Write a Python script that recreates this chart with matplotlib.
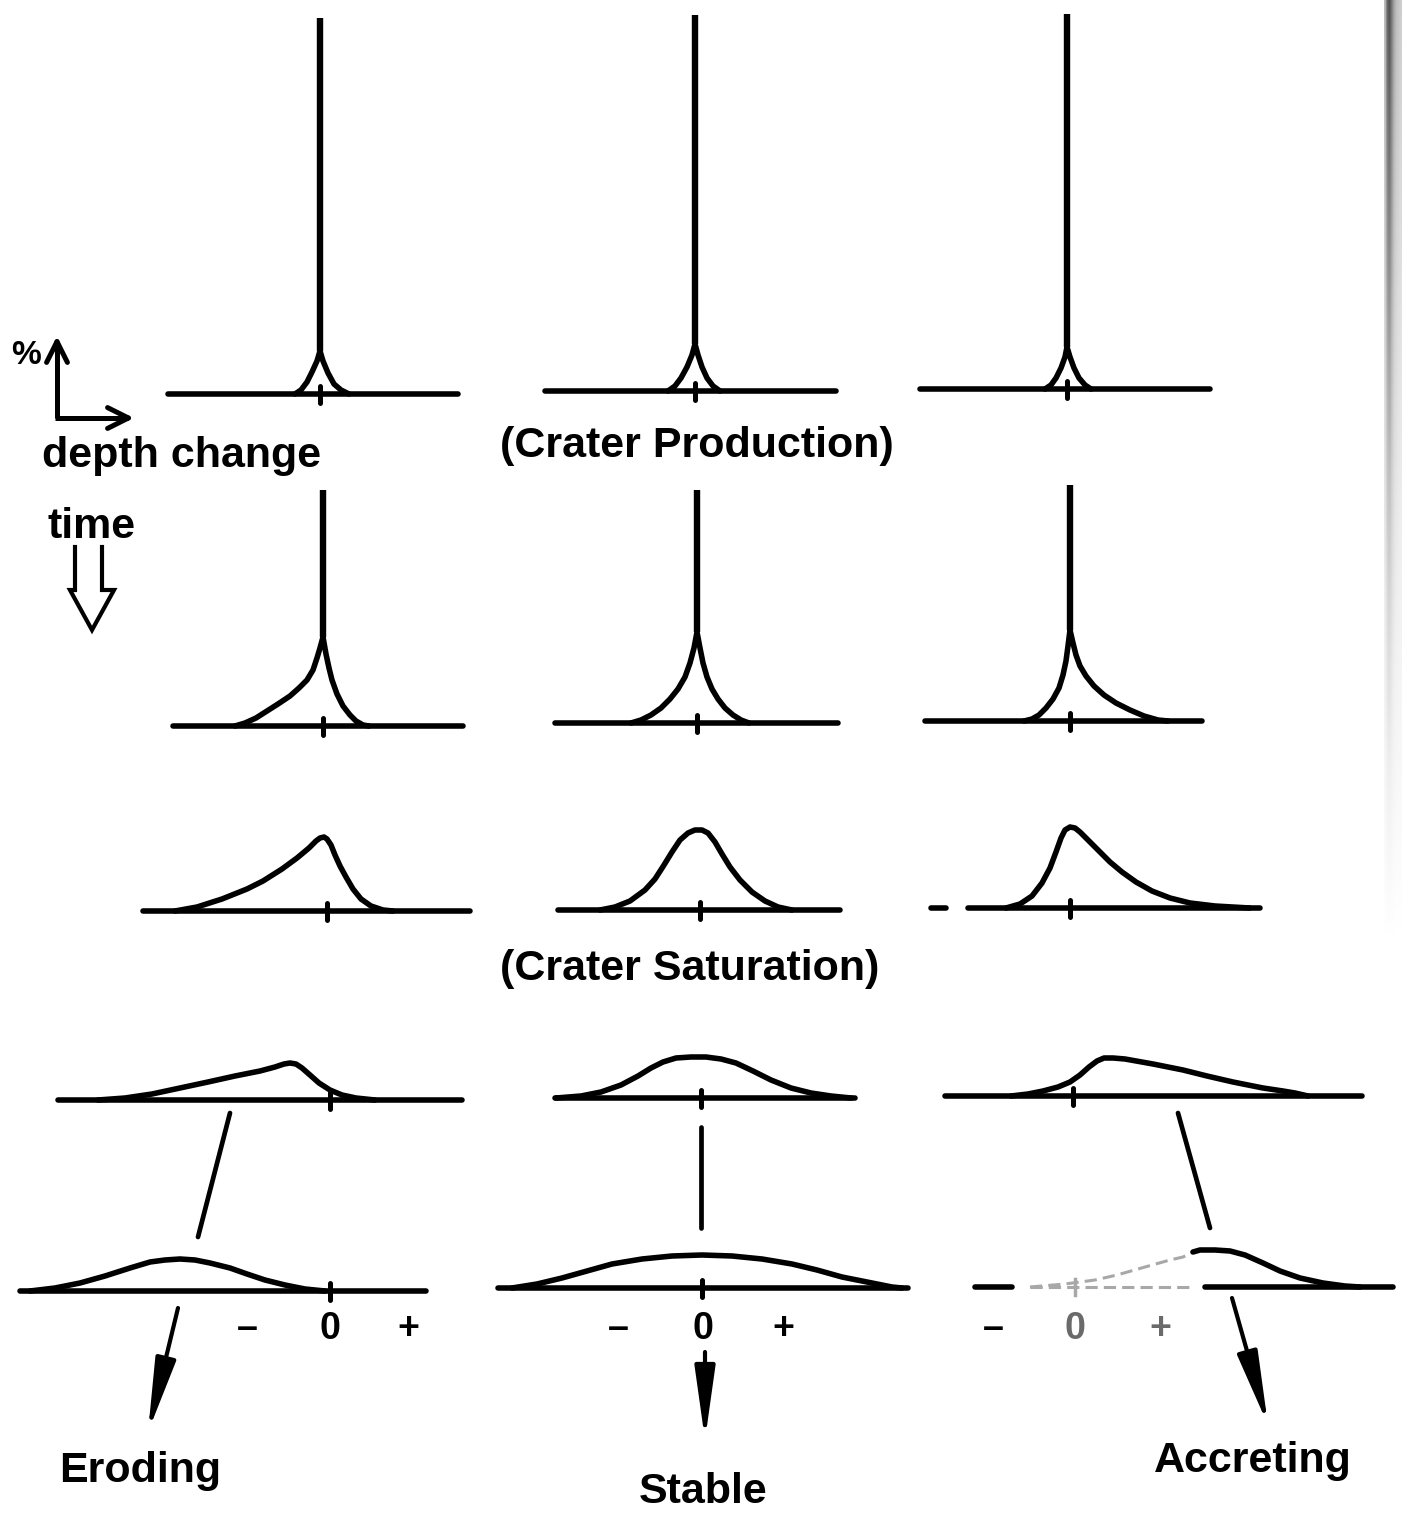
import numpy as np
import matplotlib
matplotlib.use('Agg')
import matplotlib.pyplot as plt
from matplotlib.patches import FancyArrowPatch

plt.rcParams['font.family'] = ['Liberation Sans', 'DejaVu Sans']

# ---- profile data: (offset from the zero tick, height above baseline) in px ----
# crater production, early (tall spike + small cusp)
prod_early_eroding = [(-25, 0), (-19, 4), (-13, 12), (-8, 22), (-3, 33), (0, 43),
                      (3, 33), (8, 21), (14, 10), (21, 4), (29, 0)]
prod_early_stable = [(-27, 0), (-20, 5), (-14, 13), (-8, 24), (-3, 36), (0, 47),
                     (3, 36), (7, 24), (12, 13), (18, 5), (25, 0)]
prod_early_accreting = [(-22, 0), (-16, 4), (-11, 11), (-6, 21), (-2, 32), (0, 42),
                        (3, 32), (7, 21), (12, 11), (18, 4), (24, 0)]
# crater production, later
prod_late_eroding = [(-88, 0), (-78, 3), (-67, 8), (-56, 15), (-45, 22), (-33, 30),
                     (-24, 38), (-16, 46), (-10, 56), (-6, 68), (-3, 78), (0, 89),
                     (3, 72), (6, 58), (9, 46), (14, 32), (20, 20), (27, 11),
                     (33, 5), (40, 1), (46, 0)]
prod_late_stable = [(-66, 0), (-56, 3), (-46, 8), (-36, 15), (-27, 24), (-19, 34),
                    (-12, 46), (-7, 60), (-3, 75), (0, 91), (3, 75), (6, 60),
                    (10, 46), (15, 34), (21, 24), (28, 15), (36, 8), (44, 3), (52, 0)]
prod_late_accreting = [(-46, 0), (-38, 2), (-31, 6), (-24, 13), (-17, 22), (-11, 33),
                       (-7, 46), (-4, 60), (-2, 75), (0, 91), (3, 78), (6, 66),
                       (10, 55), (16, 45), (24, 35), (34, 26), (46, 18), (60, 11),
                       (74, 5), (88, 1), (98, 0)]
spike_top = [[376, 376, 375], [236, 233, 236]]

# crater saturation
sat_early_eroding = [(-152, 0), (-130, 4), (-105, 12), (-80, 22), (-64, 30), (-45, 42),
                     (-30, 53), (-18, 63), (-11, 70), (-7, 73), (-3, 74), (0, 72),
                     (4, 66), (8, 56), (13, 45), (19, 34), (26, 22), (34, 12),
                     (44, 5), (56, 1), (66, 0)]
sat_early_stable = [(-100, 0), (-85, 3), (-70, 9), (-55, 20), (-45, 31), (-36, 45),
                    (-28, 58), (-20, 70), (-12, 77), (-5, 80), (2, 80), (8, 77),
                    (15, 68), (22, 56), (30, 43), (40, 30), (52, 18), (65, 9),
                    (78, 3), (92, 0)]
sat_early_accreting = [(-64, 0), (-50, 4), (-38, 12), (-28, 25), (-20, 40), (-14, 56),
                       (-9, 70), (-5, 78), (0, 81), (5, 80), (10, 76), (18, 68),
                       (28, 58), (40, 46), (52, 36), (66, 26), (82, 17), (100, 10),
                       (120, 5), (145, 2), (180, 0)]
sat_mid_eroding = [(-232, 0), (-205, 2), (-178, 6), (-150, 12), (-122, 18), (-95, 24),
                   (-70, 29), (-55, 33), (-46, 36), (-40, 37), (-34, 36), (-28, 32),
                   (-20, 25), (-11, 17), (0, 10), (12, 5), (26, 2), (45, 0)]
sat_mid_stable = [(-145, 0), (-120, 2), (-100, 6), (-80, 13), (-63, 22), (-50, 30),
                  (-38, 36), (-25, 40), (-10, 41), (5, 41), (20, 39), (35, 35),
                  (52, 27), (70, 18), (90, 10), (110, 5), (130, 2), (150, 0)]
sat_mid_accreting = [(-62, 0), (-45, 2), (-30, 5), (-15, 9), (-3, 14), (7, 21),
                     (16, 29), (24, 35), (31, 38), (40, 38), (52, 37), (80, 32),
                     (110, 26), (134, 20), (160, 14), (190, 8), (210, 5), (222, 3),
                     (235, 0)]
sat_late_eroding = [(-300, 0), (-275, 3), (-250, 8), (-225, 15), (-200, 23), (-180, 29),
                    (-165, 31), (-150, 32), (-135, 31), (-120, 28), (-100, 23),
                    (-83, 17), (-65, 11), (-45, 6), (-25, 2), (-5, 0)]
sat_late_stable = [(-190, 0), (-165, 4), (-140, 10), (-115, 17), (-90, 24), (-60, 29),
                   (-30, 32), (0, 33), (30, 32), (60, 29), (90, 24), (115, 18),
                   (140, 11), (165, 6), (190, 1), (200, 0)]
sat_late_accreting = [(-45, 0), (-10, 3), (20, 7), (42, 12), (70, 20), (95, 27),
                      (108, 30), (118, 35), (125, 37), (140, 37), (155, 36), (170, 32),
                      (188, 24), (205, 16), (225, 9), (248, 4), (270, 1), (285, 0)]

profiles = [
    [prod_early_eroding, prod_early_stable, prod_early_accreting],
    [prod_late_eroding, prod_late_stable, prod_late_accreting],
    [sat_early_eroding, sat_early_stable, sat_early_accreting],
    [sat_mid_eroding, sat_mid_stable, sat_mid_accreting],
    [sat_late_eroding, sat_late_stable, sat_late_accreting],
]

# ---- layout: zero tick x, baseline y, baseline start / end (px) ----
panels = [
    [(320, 394, 168, 458), (695, 391, 545, 836), (1067, 389, 920, 1210)],
    [(323, 726, 173, 463), (697, 723, 555, 838), (1070, 721, 925, 1202)],
    [(327, 911, 143, 470), (700, 910, 558, 840), (1070, 908, 968, 1260)],
    [(330, 1100, 58, 462), (701, 1098, 555, 855), (1073, 1096, 945, 1362)],
    [(330, 1291, 20, 426), (702, 1288, 498, 908), (1075, 1287, 975, 1393)],
]
axis_signs = ['–', '0', '+']
sign_x = [[247, 330, 408], [618, 703, 783], [993, 1075, 1160]]
outcomes = ['Eroding', 'Stable', 'Accreting']

W, H = 1402, 1513
fig = plt.figure(figsize=(W / 100, H / 100), dpi=100)
ax = fig.add_axes([0, 0, 1, 1])
ax.set_xlim(0, W)
ax.set_ylim(H, 0)
ax.axis('off')

LW = 4.0
FAINT = '#a8a8a8'
line_kw = dict(color='black', lw=LW, solid_capstyle='round', solid_joinstyle='round')

for r, row in enumerate(panels):
    for c, (zx, by, x0, x1) in enumerate(row):
        pts = profiles[r][c]
        px = [zx + p[0] for p in pts]
        py = [by - p[1] for p in pts]
        if r == 4 and c == 2:
            # lower accreting profile is half washed out in the scan
            k = 8
            ax.plot(px[:k], py[:k], color=FAINT, lw=2.2, ls=(0, (4, 2)))
            ax.plot(px[k - 1:], py[k - 1:], **line_kw)
            ax.plot([x0, 1012], [by, by], **line_kw)
            ax.plot([1030, 1195], [by, by], color=FAINT, lw=2.2, ls=(0, (4, 2)))
            ax.plot([1205, x1], [by, by], **line_kw)
            ax.plot([zx, zx], [by - 8, by + 8], color=FAINT, lw=2.5)
            continue
        ax.plot([x0, x1], [by, by], **line_kw)
        ax.plot([zx, zx], [by - 8, by + 9], color='black', lw=3.6, solid_capstyle='round')
        ax.plot(px, py, **line_kw)
        if r < 2:
            apex = max(p[1] for p in pts)
            ax.plot([zx, zx], [by - apex, by - spike_top[r][c]], color='black',
                    lw=4.6, solid_capstyle='butt')

# stray dash left of the upper accreting saturation profile
ax.plot([931, 946], [908, 908], **line_kw)

# ---- connectors between the two lowest rows ----
connectors = [((230, 1113), (198, 1237)), ((701, 1127), (701, 1228)),
              ((1178, 1113), (1210, 1228))]
for (xa, ya), (xb, yb) in connectors:
    ax.plot([xa, xb], [ya, yb], color='black', lw=3.4, solid_capstyle='round')

# ---- outcome arrows ----
arrows = [((178, 1308), (148, 1432)), ((705, 1352), (705, 1440)),
          ((1232, 1298), (1268, 1425))]
for a, b in arrows:
    ax.add_patch(FancyArrowPatch(a, b, arrowstyle='-|>,head_length=4.4,head_width=0.62',
                                 mutation_scale=10, lw=3.0, color='black',
                                 shrinkA=0, shrinkB=0))

# ---- axis signs under the last row ----
for c in range(3):
    for s, sx in zip(axis_signs, sign_x[c]):
        col = 'black'
        if c == 2 and s != '–':
            col = '#6a6a6a'
        ax.text(sx, 1329, s, fontsize=27, fontweight='bold', ha='center', va='center',
                color=col)

txt_kw = dict(fontsize=31, fontweight='bold', color='black', ha='center', va='baseline')
ax.text(140, 1482, outcomes[0], **txt_kw)
ax.text(703, 1503, outcomes[1], **txt_kw)
ax.text(1253, 1472, outcomes[2], **txt_kw)

ax.text(697, 457, '(Crater Production)', **txt_kw)
ax.text(690, 980, '(Crater Saturation)', **txt_kw)
ax.text(182, 467, 'depth change', **txt_kw)
ax.text(92, 538, 'time', **txt_kw)
ax.text(26, 364, '%', fontsize=24, fontweight='bold', ha='center', va='baseline')

# ---- key: % / depth change axes ----
ax.plot([57, 57], [418, 342], color='black', lw=3.6, solid_capstyle='butt')
ax.plot([55, 128], [418, 418], color='black', lw=3.6, solid_capstyle='butt')
ax.annotate('', xy=(57, 336), xytext=(57, 350),
            arrowprops=dict(arrowstyle='->,head_length=1.5,head_width=0.75', lw=3.6,
                            shrinkA=0, shrinkB=0, color='black'))
ax.annotate('', xy=(134, 418), xytext=(120, 418),
            arrowprops=dict(arrowstyle='->,head_length=1.5,head_width=0.75', lw=3.6,
                            shrinkA=0, shrinkB=0, color='black'))

# hollow "time" arrow
ax.plot([75, 75, 70, 92, 114, 102, 102], [547, 590, 590, 630, 590, 590, 547],
        color='black', lw=3.0, solid_joinstyle='miter')

# scanner shadow along the right edge
shade = np.linspace(0.75, 0.0, 200)[:, None] * np.array([[0.5, 0.9, 1.0, 0.8, 0.6, 0.5, 0.45, 0.4]])
ax.imshow(shade, extent=[1384, 1402, 940, 0], cmap='Greys', vmin=0, vmax=1,
          aspect='auto', interpolation='bilinear', zorder=0)
ax.set_xlim(0, W)
ax.set_ylim(H, 0)

fig.savefig('out.png', dpi=100, facecolor='white')
